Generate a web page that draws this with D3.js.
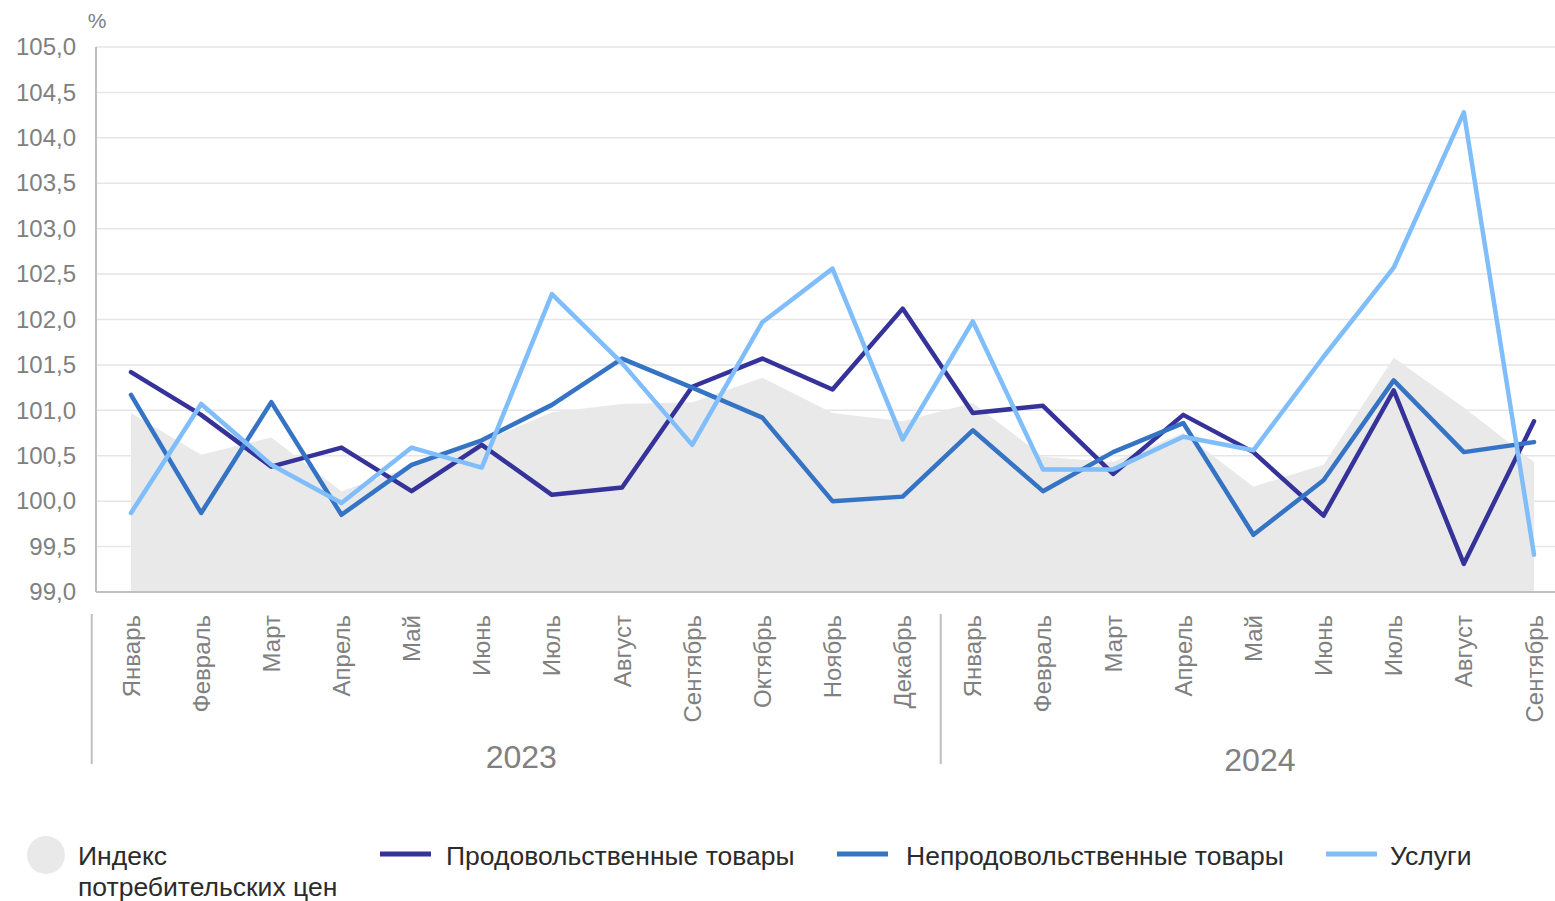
<!DOCTYPE html>
<html><head><meta charset="utf-8">
<script src="https://cdn.jsdelivr.net/npm/d3@7"></script>
<style>
html,body{margin:0;padding:0;background:#fff;}
svg{display:block;font-family:"Liberation Sans",Arial,sans-serif;}
</style></head>
<body><svg id="c" width="1555" height="901"></svg>
<script>
const months = ["Январь","Февраль","Март","Апрель","Май","Июнь","Июль","Август","Сентябрь","Октябрь","Ноябрь","Декабрь",
                "Январь","Февраль","Март","Апрель","Май","Июнь","Июль","Август","Сентябрь"];
const years = [{label:"2023", from:0, to:11},{label:"2024", from:12, to:20}];
const cpi     = [100.97,100.51,100.70,100.11,100.38,100.65,100.98,101.07,101.09,101.36,100.97,100.88,
                 101.08,100.49,100.43,100.75,100.16,100.40,101.58,101.03,100.43];
const food    = [101.42,100.95,100.38,100.59,100.11,100.62,100.07,100.15,101.26,101.57,101.23,102.12,
                 100.97,101.05,100.30,100.95,100.54,99.84,101.22,99.31,100.88];
const nonfood = [101.17,99.87,101.09,99.85,100.40,100.67,101.06,101.57,101.25,100.92,100.00,100.05,
                 100.78,100.11,100.54,100.86,99.63,100.23,101.33,100.54,100.65];
const services= [99.87,101.07,100.40,99.98,100.59,100.37,102.28,101.52,100.62,101.97,102.56,100.68,
                 101.98,100.35,100.35,100.71,100.56,101.59,102.57,104.28,99.41];
const yTicks = [99,99.5,100,100.5,101,101.5,102,102.5,103,103.5,104,104.5,105];
const seriesNames = {cpi:"Индекс\nпотребительских цен", food:"Продовольственные товары", nonfood:"Непродовольственные товары", services:"Услуги"};
const colors = {cpi:"#e9e9e9", food:"#35339a", nonfood:"#3573c4", services:"#7fbdfb"};

const svg = d3.select("#c");
const plotL = 96, plotR = 1555, plotT = 47, plotB = 592;
const x = d3.scalePoint().domain(d3.range(months.length)).range([131, 1534]);
const step = x.step();
const y = d3.scaleLinear().domain([99,105]).range([plotB, plotT]);
const fmt = v => d3.format(".1f")(v).replace(".", ",");

// gridlines
svg.append("g").selectAll("line").data(yTicks.filter(t=>t>99)).join("line")
  .attr("x1", plotL).attr("x2", plotR).attr("y1", d=>y(d)).attr("y2", d=>y(d))
  .attr("stroke", "#e5e5e5").attr("stroke-width", 1.5);

// y axis labels
const yAxis = d3.axisLeft(y).tickValues(yTicks).tickFormat(fmt).tickSize(0).tickPadding(20);
const ya = svg.append("g").attr("transform", `translate(${plotL},0)`).call(yAxis);
ya.select(".domain").remove();
ya.selectAll("text").attr("fill", "#808080").attr("font-size", 24).attr("font-family", "Liberation Sans, Arial, sans-serif");
svg.append("text").attr("x", 97).attr("y", 28).attr("text-anchor", "middle").attr("fill", "#808080").attr("font-size", 21).text("%");

// CPI area
svg.append("path").datum(cpi)
  .attr("d", d3.area().x((d,i)=>x(i)).y0(y(99)).y1(d=>y(d)))
  .attr("fill", colors.cpi);

// axes lines
svg.append("line").attr("x1", plotL).attr("x2", plotL).attr("y1", plotT).attr("y2", plotB).attr("stroke", "#bfbfbf").attr("stroke-width", 2);
svg.append("line").attr("x1", plotL).attr("x2", plotR).attr("y1", plotB).attr("y2", plotB).attr("stroke", "#bfbfbf").attr("stroke-width", 2);

// lines
const line = d3.line().x((d,i)=>x(i)).y(d=>y(d));
[["food",food],["nonfood",nonfood],["services",services]].forEach(([k,arr])=>{
  svg.append("path").datum(arr).attr("d", line).attr("fill","none")
    .attr("stroke", colors[k]).attr("stroke-width", 4.5).attr("stroke-linejoin","round").attr("stroke-linecap","round");
});

// category labels
svg.append("g").selectAll("text").data(months).join("text")
  .attr("transform", (d,i)=>`translate(${x(i)+8.5},615) rotate(-90)`)
  .attr("text-anchor", "end").attr("fill", "#808080").attr("font-size", 24).text(d=>d);

// year groups
const sepXs = [x(0)-step*0.56, (x(11)+x(12))/2 + 3];
svg.append("g").selectAll("line").data(sepXs).join("line")
  .attr("x1", d=>d).attr("x2", d=>d).attr("y1", 614).attr("y2", 764)
  .attr("stroke", "#bfbfbf").attr("stroke-width", 2);
years.forEach((yr, j)=>{
  const a = j===0 ? sepXs[0] : sepXs[1];
  const b = j===0 ? sepXs[1] : x(yr.to) + step/2;
  svg.append("text").attr("x", (a+b)/2 + 5).attr("y", j===0?768:771).attr("text-anchor","middle")
    .attr("fill", "#808080").attr("font-size", 32).text(yr.label);
});

// legend
const lg = svg.append("g").attr("font-size", 26.5).attr("fill", "#2b2b2b");
lg.append("circle").attr("cx", 46).attr("cy", 855).attr("r", 19).attr("fill", colors.cpi);
const t0 = lg.append("text").attr("x", 78).attr("y", 865);
seriesNames.cpi.split("\n").forEach((s,i)=>t0.append("tspan").attr("x",78).attr("dy", i?31:0).text(s));
const items = [["food",380,446],["nonfood",837,906],["services",1326,1390]];
items.forEach(([k,sx,tx])=>{
  lg.append("line").attr("x1", sx).attr("x2", sx+51).attr("y1", 854).attr("y2", 854).attr("stroke", colors[k]).attr("stroke-width", 5);
  lg.append("text").attr("x", tx).attr("y", 865).text(seriesNames[k]);
});
</script></body></html>
